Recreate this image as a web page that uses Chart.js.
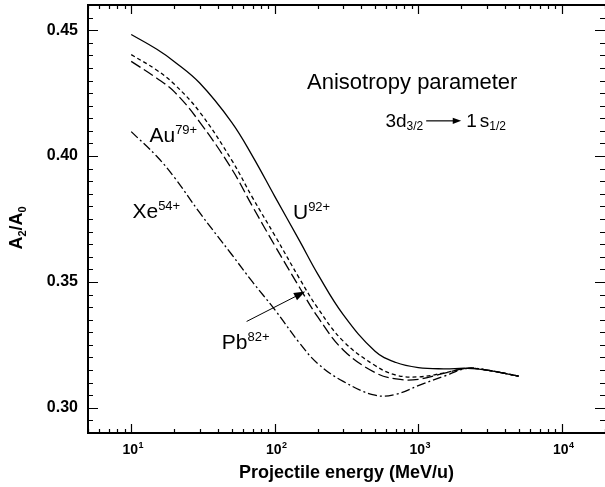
<!DOCTYPE html>
<html>
<head>
<meta charset="utf-8">
<script src="https://cdn.jsdelivr.net/npm/chart.js@4.4.1/dist/chart.umd.min.js"></script>
<style>
    html, body { margin: 0; padding: 0; background: #fff; }
    #chart { display: block; }
</style>
</head>
<body>
<canvas id="chart" width="605" height="487"></canvas>
<script>
const energies = [10, 15, 20, 30, 50, 70, 100, 150, 200, 300, 500, 700, 1000, 1500, 2200, 3000, 5000];

// A2/A0 for each ion
const uranium = [0.4483, 0.4425, 0.4375, 0.4290, 0.4135, 0.4000, 0.3840, 0.3660, 0.3530, 0.3370, 0.3225, 0.3180, 0.3160, 0.3155, 0.3157, 0.3150, 0.3126];
const lead = [0.4403, 0.4342, 0.4285, 0.4175, 0.3985, 0.3835, 0.3685, 0.3510, 0.3395, 0.3265, 0.3168, 0.3130, 0.3123, 0.3138, 0.3157, 0.3150, 0.3126];
const gold = [0.4376, 0.4310, 0.4255, 0.4135, 0.3950, 0.3800, 0.3645, 0.3475, 0.3360, 0.3230, 0.3140, 0.3115, 0.3113, 0.3137, 0.3157, 0.3150, 0.3126];
const xenon = [0.4097, 0.4000, 0.3915, 0.3775, 0.3610, 0.3500, 0.3390, 0.3255, 0.3175, 0.3105, 0.3050, 0.3054, 0.3088, 0.3125, 0.3157, 0.3150, 0.3126];

// Axis ticks
const xMajorTicks = [10, 100, 1000, 10000];
const xTickExponents = ['1', '2', '3', '4'];
const yMajorTicks = [0.30, 0.35, 0.40, 0.45];
const yTickLabels = ['0.30', '0.35', '0.40', '0.45'];

const FONT = '"Liberation Sans", Arial, Helvetica, sans-serif';
const X_MIN = 5, X_MAX = 20000, Y_MIN = 0.29, Y_MAX = 0.46;

function series(values) {
    return energies.map((e, i) => ({x: e, y: values[i]}));
}

function isMajorY(v) {
    return yMajorTicks.some((m) => Math.abs(m - v) < 1e-6);
}

function isMajorX(v) {
    return xMajorTicks.some((m) => Math.abs(m - v) / m < 1e-6);
}

// draws "Base^sup" / "Base_sub" pieces next to each other
function drawRich(ctx, x, y, parts) {
    let cx = x;
    parts.forEach((p) => {
        ctx.font = p.font;
        ctx.fillText(p.text, cx, y + (p.dy || 0));
        cx += ctx.measureText(p.text).width + (p.gap || 0);
    });
    return cx;
}

function arrow(ctx, x1, y1, x2, y2, head, lw) {
    const ang = Math.atan2(y2 - y1, x2 - x1);
    ctx.lineWidth = lw;
    ctx.beginPath();
    ctx.moveTo(x1, y1);
    ctx.lineTo(x2 - Math.cos(ang) * head * 0.8, y2 - Math.sin(ang) * head * 0.8);
    ctx.stroke();
    ctx.beginPath();
    ctx.moveTo(x2, y2);
    ctx.lineTo(x2 - head * Math.cos(ang - 0.35), y2 - head * Math.sin(ang - 0.35));
    ctx.lineTo(x2 - head * Math.cos(ang + 0.35), y2 - head * Math.sin(ang + 0.35));
    ctx.closePath();
    ctx.fill();
}

const frame = {
    id: 'frame',
    afterDraw(chart) {
        const {ctx, chartArea: a, scales: {x, y}} = chart;
        ctx.save();
        ctx.strokeStyle = '#000';
        ctx.fillStyle = '#000';

        // inward ticks on all four sides
        ctx.lineWidth = 1.2;
        ctx.beginPath();
        y.ticks.forEach((t) => {
            const py = Math.round(y.getPixelForValue(t.value)) + 0.5;
            const len = isMajorY(t.value) ? 10 : 5;
            ctx.moveTo(a.left, py); ctx.lineTo(a.left + len, py);
            ctx.moveTo(a.right, py); ctx.lineTo(a.right - len, py);
        });
        x.ticks.forEach((t) => {
            const px = Math.round(x.getPixelForValue(t.value)) + 0.5;
            const len = isMajorX(t.value) ? 9 : 4;
            ctx.moveTo(px, a.bottom); ctx.lineTo(px, a.bottom - len);
            ctx.moveTo(px, a.top); ctx.lineTo(px, a.top + len);
        });
        ctx.stroke();

        // frame
        ctx.lineWidth = 2;
        ctx.beginPath();
        ctx.moveTo(a.right, a.top); ctx.lineTo(a.left, a.top);
        ctx.lineTo(a.left, a.bottom); ctx.lineTo(a.right, a.bottom);
        ctx.stroke();

        // x tick labels 10^n
        ctx.textBaseline = 'alphabetic';
        ctx.textAlign = 'left';
        xMajorTicks.forEach((v, i) => {
            const px = x.getPixelForValue(v);
            ctx.font = 'bold 14px ' + FONT;
            const w = ctx.measureText('10').width;
            drawRich(ctx, px - w / 2 - 1, a.bottom + 21, [
                {text: '10', font: 'bold 14px ' + FONT, gap: 0.5},
                {text: xTickExponents[i], font: 'bold 9px ' + FONT, dy: -6},
            ]);
        });

        // y title A2/A0
        ctx.save();
        ctx.translate(22, 228);
        ctx.rotate(-Math.PI / 2);
        const parts = [
            {text: 'A', font: 'bold 18px ' + FONT},
            {text: '2', font: 'bold 11px ' + FONT, dy: 4},
            {text: '/A', font: 'bold 18px ' + FONT},
            {text: '0', font: 'bold 11px ' + FONT, dy: 4},
        ];
        let tw = 0;
        parts.forEach((p) => { ctx.font = p.font; tw += ctx.measureText(p.text).width; });
        drawRich(ctx, -tw / 2, 0, parts);
        ctx.restore();

        // annotations inside the plot
        const big = '21px ' + FONT;
        const sup = '13px ' + FONT;
        const at = (e, v) => [x.getPixelForValue(e), y.getPixelForValue(v)];

        let [px, py] = at(13.4, 0.4056);
        drawRich(ctx, px, py, [{text: 'Au', font: big}, {text: '79+', font: sup, dy: -8}]);
        [px, py] = at(10.2, 0.3753);
        drawRich(ctx, px, py, [{text: 'Xe', font: big}, {text: '54+', font: sup, dy: -8}]);
        [px, py] = at(134, 0.3749);
        drawRich(ctx, px, py, [{text: 'U', font: big}, {text: '92+', font: sup, dy: -8}]);
        [px, py] = at(42.8, 0.3234);
        drawRich(ctx, px, py, [{text: 'Pb', font: big}, {text: '82+', font: sup, dy: -8}]);

        const [ax1, ay1] = at(63.7, 0.3343);
        const [ax2, ay2] = at(163, 0.3462);
        arrow(ctx, ax1, ay1, ax2, ay2, 12, 1);

        [px, py] = at(168, 0.4267);
        ctx.font = '22px ' + FONT;
        ctx.fillText('Anisotropy parameter', px, py);

        [px, py] = at(590, 0.4116);
        const cx = drawRich(ctx, px, py, [
            {text: '3d', font: '19px ' + FONT},
            {text: '3/2', font: '12px ' + FONT, dy: 3},
        ]);
        arrow(ctx, cx + 3, py - 6, cx + 38, py - 6, 9, 1.2);
        drawRich(ctx, cx + 43, py, [
            {text: '1', font: '19px ' + FONT, gap: 3},
            {text: 's', font: '19px ' + FONT},
            {text: '1/2', font: '12px ' + FONT, dy: 3},
        ]);

        ctx.restore();
    },
};

new Chart(document.getElementById('chart'), {
    type: 'line',
    data: {
        datasets: [
            {label: 'Xe54+', data: series(xenon), borderDash: [9, 3, 2, 3]},
            {label: 'Au79+', data: series(gold), borderDash: [11, 4]},
            {label: 'Pb82+', data: series(lead), borderDash: [4, 3]},
            {label: 'U92+', data: series(uranium)},
        ],
    },
    options: {
        responsive: false,
        animation: false,
        layout: {padding: {top: 5, right: 0, left: 0, bottom: 0}},
        elements: {
            point: {radius: 0},
            line: {borderColor: '#000', borderWidth: 1.3, tension: 0.4, fill: false},
        },
        plugins: {
            legend: {display: false},
            tooltip: {enabled: false},
        },
        scales: {
            x: {
                type: 'logarithmic',
                min: X_MIN,
                max: X_MAX,
                afterBuildTicks(scale) {
                    const ticks = [];
                    for (let p = 0; p <= 4; p++) {
                        for (let m = 1; m <= 9; m++) {
                            const v = m * Math.pow(10, p);
                            if (v >= X_MIN && v <= X_MAX) ticks.push({value: v});
                        }
                    }
                    scale.ticks = ticks;
                },
                afterFit(scale) {
                    scale.height = 54;
                    scale.paddingLeft = 0;
                    scale.paddingRight = 0;
                },
                ticks: {display: false, autoSkip: false},
                grid: {display: false, drawTicks: false},
                border: {display: false},
                title: {
                    display: true,
                    text: 'Projectile energy (MeV/u)',
                    color: '#000',
                    font: {family: FONT, size: 18, weight: 'bold'},
                    padding: {top: 0, bottom: 3},
                },
            },
            y: {
                min: Y_MIN,
                max: Y_MAX,
                afterBuildTicks(scale) {
                    const ticks = [];
                    for (let i = 0; i <= 34; i++) ticks.push({value: +(Y_MIN + i * 0.005).toFixed(3)});
                    scale.ticks = ticks;
                },
                afterFit(scale) {
                    scale.width = 88;
                    scale.paddingTop = 0;
                    scale.paddingBottom = 0;
                },
                ticks: {
                    autoSkip: false,
                    padding: 10,
                    color: '#000',
                    font: {family: FONT, size: 16, weight: 'bold'},
                    callback(value) {
                        const i = yMajorTicks.findIndex((m) => Math.abs(m - value) < 1e-6);
                        return i >= 0 ? yTickLabels[i] : '';
                    },
                },
                grid: {display: false, drawTicks: false},
                border: {display: false},
            },
        },
    },
    plugins: [frame],
});
</script>
</body>
</html>
